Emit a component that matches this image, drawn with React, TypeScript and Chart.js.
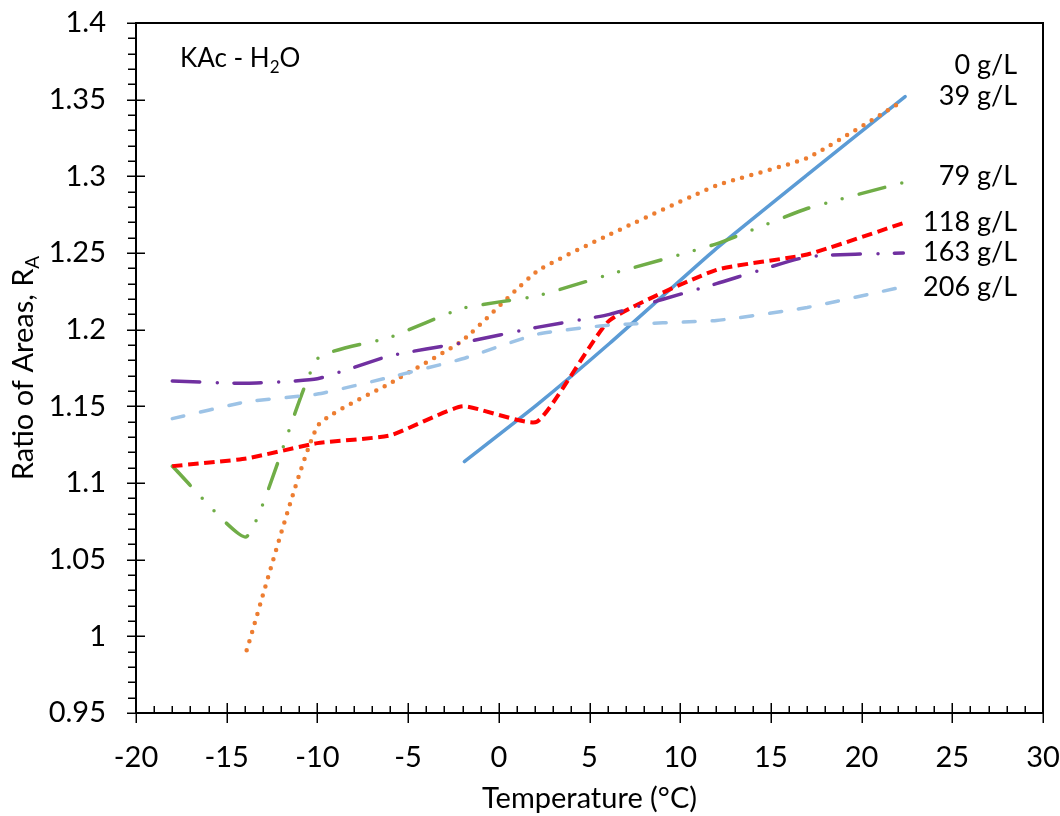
import { useEffect, useRef } from 'react';
import { Chart, registerables } from 'chart.js';

Chart.register(...registerables);

// ---- data ----
const temps = [-18, -13.9, -10, -6, -2, 2.1, 6.1, 12, 17, 22.3];
const temps0 = [-1.9, 2.1, 6.1, 12, 17, 22.4];
const temps39 = [-13.9, -10, -6, -2, 2.1, 6.1, 12, 17, 22.2];

const ra0 = [1.114, 1.151, 1.191, 1.253, 1.301, 1.352];
const ra39 = [0.991, 1.137, 1.165, 1.193, 1.238, 1.262, 1.294, 1.312, 1.3485];
const ra79 = [1.111, 1.065, 1.181, 1.195, 1.214, 1.222, 1.236, 1.256, 1.279, 1.296];
const ra118 = [1.111, 1.116, 1.126, 1.131, 1.15, 1.14, 1.206, 1.239, 1.249, 1.2695];
const ra163 = [1.1665, 1.165, 1.168, 1.183, 1.1915, 1.2015, 1.21, 1.23, 1.2475, 1.25];
const ra206 = [1.142, 1.153, 1.158, 1.169, 1.181, 1.197, 1.203, 1.206, 1.2145, 1.228];

const seriesNames = ['0 g/L', '39 g/L', '79 g/L', '118 g/L', '163 g/L', '206 g/L'];
const labelRA = [1.3726, 1.3524, 1.3002, 1.2702, 1.2506, 1.2278];
const labelTemp = 28.57;

const xTicks = [-20, -15, -10, -5, 0, 5, 10, 15, 20, 25, 30];
const xTickLabels = ['-20', '-15', '-10', '-5', '0', '5', '10', '15', '20', '25', '30'];
const yTicks = [0.95, 1, 1.05, 1.1, 1.15, 1.2, 1.25, 1.3, 1.35, 1.4];
const yTickLabels = ['0.95', '1', '1.05', '1.1', '1.15', '1.2', '1.25', '1.3', '1.35', '1.4'];

const FONT = 'Lato';

const pts = (xs: number[], ys: number[]) => xs.map((x, i) => ({ x, y: ys[i] }));

const decorPlugin = {
  id: 'decor',
  afterDraw(chart: any) {
    const { ctx, chartArea, scales } = chart;
    const { left, right, top, bottom } = chartArea;
    const xs = scales.x;
    const ys = scales.y;
    ctx.save();
    // frame
    ctx.strokeStyle = '#000';
    ctx.lineWidth = 2;
    ctx.strokeRect(left, top, right - left, bottom - top);
    // ticks
    ctx.lineWidth = 1.5;
    ctx.beginPath();
    for (let i = 95; i <= 140; i++) {
      const py = Math.round(ys.getPixelForValue(i / 100)) + 0.25;
      if (i % 5 === 0) {
        ctx.moveTo(left - 9, py);
        ctx.lineTo(left + 9, py);
      } else {
        ctx.moveTo(left - 8, py);
        ctx.lineTo(left, py);
      }
    }
    for (let t = -20; t <= 30; t++) {
      const px = Math.round(xs.getPixelForValue(t)) + 0.25;
      if (t % 5 === 0) {
        ctx.moveTo(px, bottom - 10);
        ctx.lineTo(px, bottom + 10);
      } else {
        ctx.moveTo(px, bottom - 7);
        ctx.lineTo(px, bottom);
      }
    }
    ctx.stroke();

    ctx.fillStyle = '#000';
    // series labels
    ctx.font = `27px ${FONT}`;
    ctx.textAlign = 'right';
    ctx.textBaseline = 'alphabetic';
    seriesNames.forEach((n, i) => {
      ctx.fillText(n, xs.getPixelForValue(labelTemp), ys.getPixelForValue(labelRA[i]) + 9);
    });

    // KAc - H2O
    ctx.textAlign = 'left';
    let x0 = 180;
    const by = 67;
    ctx.font = `26px ${FONT}`;
    ctx.fillText('KAc - H', x0, by);
    x0 += ctx.measureText('KAc - H').width;
    ctx.font = `17px ${FONT}`;
    ctx.fillText('2', x0, by + 6);
    x0 += ctx.measureText('2').width;
    ctx.font = `26px ${FONT}`;
    ctx.fillText('O', x0, by);

    // y title with subscript
    ctx.save();
    ctx.translate(33, (top + bottom) / 2);
    ctx.rotate(-Math.PI / 2);
    ctx.font = `29px ${FONT}`;
    const main = 'Ratio of Areas, R';
    const wm = ctx.measureText(main).width;
    ctx.font = `19px ${FONT}`;
    const ws = ctx.measureText('A').width;
    const sx = -(wm + ws) / 2;
    ctx.font = `29px ${FONT}`;
    ctx.fillText(main, sx, 0);
    ctx.font = `19px ${FONT}`;
    ctx.fillText('A', sx + wm, 6);
    ctx.restore();

    ctx.restore();
  },
};

export default function App() {
  const ref = useRef<HTMLCanvasElement | null>(null);

  useEffect(() => {
    if (!ref.current) return;
    const common = { pointRadius: 0, pointHoverRadius: 0, fill: false, tension: 0.15, borderJoinStyle: 'round' as const };
    const chart = new Chart(ref.current, {
      type: 'line',
      data: {
        datasets: [
          { ...common, label: seriesNames[0], data: pts(temps0, ra0), borderColor: '#5B9BD5', borderWidth: 3.5, borderCapStyle: 'round', order: 5 },
          { ...common, label: seriesNames[1], data: pts(temps39, ra39), borderColor: '#ED7D31', borderWidth: 4.5, borderDash: [0, 9.5], borderCapStyle: 'round', order: 4 },
          { ...common, label: seriesNames[2], data: pts(temps, ra79), borderColor: '#70AD47', borderWidth: 3.5, borderDash: [26.5, 17.5, 0, 17, 0, 17.5], borderCapStyle: 'round', order: 3 },
          { ...common, label: seriesNames[3], data: pts(temps, ra118), borderColor: '#FF0000', borderWidth: 4, borderDash: [10.5, 5.5], borderCapStyle: 'butt', order: 2 },
          { ...common, label: seriesNames[4], data: pts(temps, ra163), borderColor: '#7030A0', borderWidth: 3.5, borderDash: [27.5, 17.5, 0, 16.5], borderCapStyle: 'round', order: 1 },
          { ...common, label: seriesNames[5], data: pts(temps, ra206), borderColor: '#9DC3E6', borderWidth: 3.5, borderDash: [12, 17], borderCapStyle: 'round', order: 0 },
        ] as any,
      },
      options: {
        responsive: false,
        animation: false,
        devicePixelRatio: 1,
        events: [],
        layout: { autoPadding: false, padding: { top: 23, right: 17, left: 0, bottom: 0 } },
        plugins: { legend: { display: false }, tooltip: { enabled: false }, title: { display: false } },
        scales: {
          x: {
            type: 'linear',
            min: -20,
            max: 30,
            grid: { display: false, drawTicks: false, tickLength: 0 },
            border: { display: false },
            afterBuildTicks: (s: any) => { s.ticks = xTicks.map((v) => ({ value: v })); },
            afterFit: (s: any) => { s.height = 103; s.paddingLeft = 0; s.paddingRight = 0; s.paddingTop = 0; s.paddingBottom = 0; },
            ticks: {
              autoSkip: false,
              maxRotation: 0,
              padding: 27,
              color: '#000',
              font: { family: FONT, size: 29 },
              callback: (_v: any, i: number) => xTickLabels[i],
            },
            title: {
              display: true,
              text: 'Temperature (°C)',
              color: '#000',
              font: { family: FONT, size: 29 },
              padding: { top: 0, bottom: 0 },
            },
          },
          y: {
            type: 'linear',
            min: 0.95,
            max: 1.4,
            grid: { display: false, drawTicks: false, tickLength: 0 },
            border: { display: false },
            afterBuildTicks: (s: any) => { s.ticks = yTicks.map((v) => ({ value: v })); },
            afterFit: (s: any) => { s.width = 136; s.paddingLeft = 0; s.paddingRight = 0; s.paddingTop = 0; s.paddingBottom = 0; },
            ticks: {
              autoSkip: false,
              padding: 30,
              color: '#000',
              font: { family: FONT, size: 29 },
              callback: (_v: any, i: number) => yTickLabels[i],
            },
          },
        },
      } as any,
      plugins: [decorPlugin],
    });
    return () => chart.destroy();
  }, []);

  return (
    <div style={{ position: 'absolute', left: 0, top: 0, width: 1060, height: 816, background: '#fff' }}>
      <canvas ref={ref} width={1060} height={816} style={{ display: 'block' }} />
    </div>
  );
}
